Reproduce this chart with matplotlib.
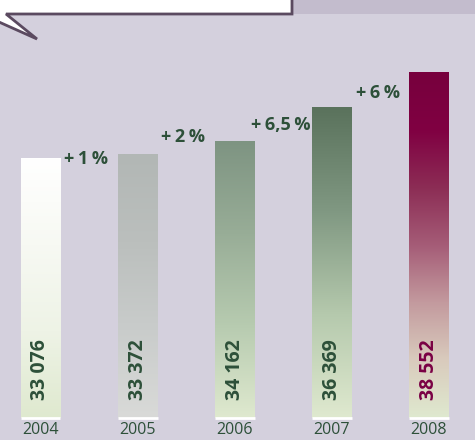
import numpy as np
import matplotlib
matplotlib.use("Agg")
import matplotlib.pyplot as plt
from matplotlib.colors import LinearSegmentedColormap
from matplotlib.patches import Polygon, Rectangle

# données
years = ["2004", "2005", "2006", "2007", "2008"]
values = [33076, 33372, 34162, 36369, 38552]
value_labels = ["33 076", "33 372", "34 162", "36 369", "38 552"]
growth_labels = ["+\u20091\u2009%", "+\u20092\u2009%", "+\u20096,5\u2009%", "+\u20096\u2009%"]

# dégradés (du bas vers le haut)
gradients = [
    ["#dfe9cf", "#eef3e6", "#f7f9f3", "#ffffff"],
    ["#d9dad8", "#c9cccb", "#bbbfbd", "#b2b7b5"],
    ["#dfe9cf", "#b7cbb0", "#98ad97", "#7e9482"],
    ["#dfe9cf", "#b5c9ad", "#809882", "#5a725c"],
    ["#dfe9cf", "#d9cbbd", "#c39a9e", "#a55c77", "#8c2d55", "#800042", "#77003d"],
]
value_colors = ["#2d5039", "#2d5039", "#2d5039", "#2d5039", "#7a0044"]

bg = "#d4d0dd"
green = "#2d5039"
plt.rcParams["font.family"] = ["Open Sans", "DejaVu Sans"]

fig = plt.figure(figsize=(4.75, 4.4), dpi=100, facecolor=bg)
W, H = 475, 440

# bande et bulle en haut
fig.patches.append(Rectangle((292 / W, 1 - 14 / H), 1, 14 / H, transform=fig.transFigure,
                             facecolor="#c3bccd", edgecolor="none", zorder=0))
bubble = [(-10, -10), (292, -10), (292, 14), (6, 14), (37, 39), (-10, 18)]
fig.patches.append(Polygon([(x / W, 1 - y / H) for x, y in bubble], closed=True,
                           transform=fig.transFigure, facecolor="white",
                           edgecolor="#5b4a60", linewidth=2, zorder=1))

ax = fig.add_axes([0, 22 / H, 1, 1 - 22 / H])
ax.set_facecolor("none")
base = 16584
ax.set_xlim(-0.417, 4.474)
ax.set_ylim(base, 43200)
ax.axis("off")

bw = 0.41
for i, (v, grad) in enumerate(zip(values, gradients)):
    cmap = LinearSegmentedColormap.from_list(f"g{i}", grad)
    grid = np.linspace(0, 1, 256).reshape(-1, 1)
    ax.imshow(grid, cmap=cmap, origin="lower", aspect="auto",
              extent=[i - bw / 2, i + bw / 2, base, v], zorder=2)
    # liseré blanc sous la barre
    ax.plot([i - bw / 2, i + bw / 2], [base, base], color="white", lw=2,
            solid_capstyle="butt", clip_on=False, zorder=3)
    ax.annotate(value_labels[i], (i, base), xytext=(0, 13), textcoords="offset points",
                rotation=90, ha="center", va="bottom", fontsize=14,
                fontweight="bold", color=value_colors[i], zorder=4)
    ax.annotate(years[i], (i, base), xytext=(0, -3), textcoords="offset points",
                ha="center", va="top", fontsize=11.5, color=green, clip_on=False)

offsets = [-2, 8, 0, -2]
for i, lab in enumerate(growth_labels):
    y = (values[i] + values[i + 1]) / 2
    ax.annotate(lab, (i + 0.5, y), xytext=(-2, offsets[i]), textcoords="offset points",
                ha="center", va="center", fontsize=13, fontweight="bold", color=green)

fig.savefig("out.png", dpi=100, facecolor=bg)
